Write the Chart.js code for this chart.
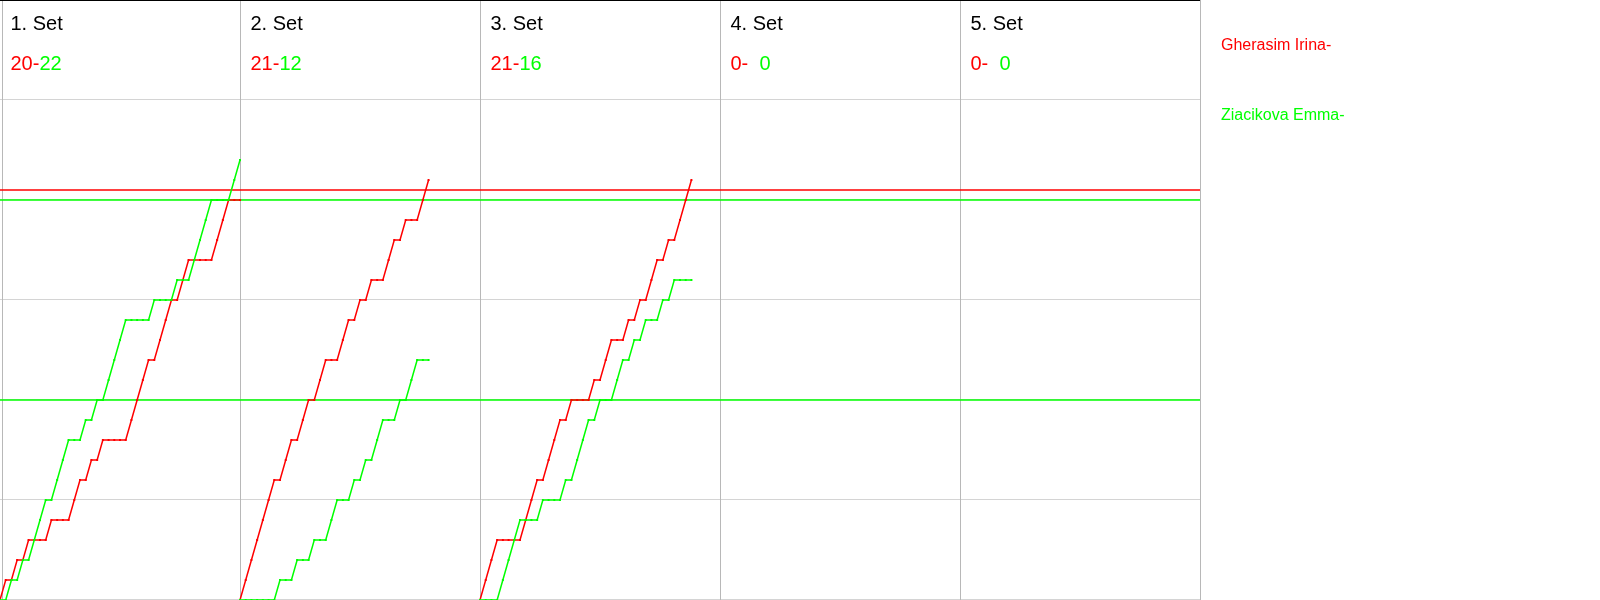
<!DOCTYPE html>
<html>
<head>
<meta charset="utf-8">
<title>Set chart</title>
<script src="https://cdn.jsdelivr.net/npm/chart.js@4"></script>
<style>
    html, body { margin: 0; padding: 0; background: #fff; }
    canvas { display: block; }
</style>
</head>
<body>
<canvas id="chart" width="1600" height="600"></canvas>
<script>
// Rallies per set panel on the x axis
const ralliesPerSet = 42;
const setLabels = ['1. Set', '2. Set', '3. Set', '4. Set', '5. Set'];
const redSetScores = [20, 21, 21, 0, 0];
const greenSetScores = [22, 12, 16, 0, 0];
const playerNames = ['Gherasim Irina-', 'Ziacikova Emma-'];

// Running score after each rally (index 0 = start of set)
const set1Red = [0, 1, 1, 2, 2, 3, 3, 3, 3, 4, 4, 4, 4, 5, 6, 6, 7, 7, 8, 8, 8, 8, 8, 9, 10, 11, 12, 12, 13, 14, 15, 15, 16, 17, 17, 17, 17, 17, 18, 19, 20, 20, 20];
const set1Green = [0, 0, 1, 1, 2, 2, 3, 4, 5, 5, 6, 7, 8, 8, 8, 9, 9, 10, 10, 11, 12, 13, 14, 14, 14, 14, 14, 15, 15, 15, 15, 16, 16, 16, 17, 18, 19, 20, 20, 20, 20, 21, 22];
const set2Red = [0, 1, 2, 3, 4, 5, 6, 6, 7, 8, 8, 9, 10, 10, 11, 12, 12, 12, 13, 14, 14, 15, 15, 16, 16, 16, 17, 18, 18, 19, 19, 19, 20, 21];
const set2Green = [0, 0, 0, 0, 0, 0, 0, 1, 1, 1, 2, 2, 2, 3, 3, 3, 4, 5, 5, 5, 6, 6, 7, 7, 8, 9, 9, 9, 10, 10, 11, 12, 12, 12];
const set3Red = [0, 1, 2, 3, 3, 3, 3, 3, 4, 5, 6, 6, 7, 8, 9, 9, 10, 10, 10, 10, 11, 11, 12, 13, 13, 13, 14, 14, 15, 15, 16, 17, 17, 18, 18, 19, 20, 21];
const set3Green = [0, 0, 0, 0, 1, 2, 3, 4, 4, 4, 4, 5, 5, 5, 5, 6, 6, 7, 8, 9, 9, 10, 10, 10, 11, 12, 12, 13, 13, 14, 14, 14, 15, 15, 16, 16, 16, 16];

// Horizontal marker lines
const redMarks = [20.5];
const greenMarks = [20, 10];

const yTicks = [0, 5, 10, 15, 20, 25, 30];

const RED = '#ff0000';
const GREEN = '#00ff00';
const FONT = '"Liberation Sans", Arial, sans-serif';

document.addEventListener('DOMContentLoaded', () => {
    const xMax = ralliesPerSet * setLabels.length;

    function toPoints(scores, setIndex) {
        return scores.map((s, i) => ({ x: setIndex * ralliesPerSet + i, y: s }));
    }

    function scoreLine(scores, setIndex, color) {
        return {
            data: toPoints(scores, setIndex),
            borderColor: color,
            backgroundColor: color,
            borderWidth: 1.5,
            pointStyle: 'rect',
            pointRadius: 1.4,
            pointBorderWidth: 0,
            tension: 0,
            clip: false,
            order: 1
        };
    }

    function markLine(value, color) {
        return {
            data: [{ x: 0, y: value }, { x: xMax, y: value }],
            borderColor: color,
            borderWidth: 1.3,
            pointRadius: 0,
            order: 5
        };
    }

    const datasets = [
        ...redMarks.map(v => markLine(v, RED)),
        ...greenMarks.map(v => markLine(v, GREEN)),
        scoreLine(set1Green, 0, GREEN),
        scoreLine(set1Red, 0, RED),
        scoreLine(set2Green, 1, GREEN),
        scoreLine(set2Red, 1, RED),
        scoreLine(set3Green, 2, GREEN),
        scoreLine(set3Red, 2, RED)
    ];

    // Grid, frame and text drawn against the chart's own scales
    const panelPlugin = {
        id: 'panels',
        beforeDatasetsDraw(chart) {
            const { ctx, chartArea, scales: { x, y } } = chart;
            ctx.save();
            ctx.fillStyle = '#d4d4d4';
            yTicks.forEach(t => {
                if (t === 0 || t === 30) return;
                const py = Math.round(y.getPixelForValue(t)) - 1;
                ctx.fillRect(chartArea.left, py, chartArea.right - chartArea.left, 1);
            });
            ctx.fillRect(chartArea.left, chartArea.bottom - 1, chartArea.right - chartArea.left, 1);

            ctx.fillStyle = '#b8b8b8';
            for (let i = 1; i <= setLabels.length; i++) {
                const px = Math.round(x.getPixelForValue(i * ralliesPerSet));
                ctx.fillRect(px, chartArea.top, 1, chartArea.bottom - chartArea.top);
            }
            ctx.fillRect(chartArea.left + 2, chartArea.top, 1, chartArea.bottom - chartArea.top);

            ctx.fillStyle = '#000';
            ctx.fillRect(chartArea.left, chartArea.top, chartArea.right - chartArea.left, 1);
            ctx.restore();
        },
        afterDraw(chart) {
            const { ctx, chartArea, scales: { x } } = chart;
            ctx.save();
            ctx.textBaseline = 'alphabetic';
            ctx.textAlign = 'left';
            ctx.font = '20px ' + FONT;

            setLabels.forEach((label, i) => {
                const left = x.getPixelForValue(i * ralliesPerSet) + 10.5;
                ctx.fillStyle = '#000';
                ctx.fillText(label, left, 30);

                const redText = redSetScores[i] + '-';
                ctx.fillStyle = RED;
                ctx.fillText(redText, left, 70);
                let gx = left + ctx.measureText(redText).width;
                if (greenSetScores[i] < 10) gx += ctx.measureText('0').width;
                ctx.fillStyle = GREEN;
                ctx.fillText(String(greenSetScores[i]), gx, 70);
            });

            ctx.font = '16px ' + FONT;
            ctx.fillStyle = RED;
            ctx.fillText(playerNames[0], chartArea.right + 21, 50);
            ctx.fillStyle = GREEN;
            ctx.fillText(playerNames[1], chartArea.right + 21, 120);
            ctx.restore();
        }
    };

    new Chart(document.getElementById('chart'), {
        type: 'line',
        data: { datasets },
        options: {
            responsive: false,
            animation: false,
            devicePixelRatio: 1,
            layout: { autoPadding: false, padding: { left: 0, right: 400, top: 0, bottom: 0 } },
            plugins: {
                legend: { display: false },
                tooltip: { enabled: false }
            },
            scales: {
                x: { type: 'linear', min: 0, max: xMax, display: false },
                y: { type: 'linear', min: 0, max: 30, display: false }
            }
        },
        plugins: [panelPlugin]
    });
});
</script>
</body>
</html>
